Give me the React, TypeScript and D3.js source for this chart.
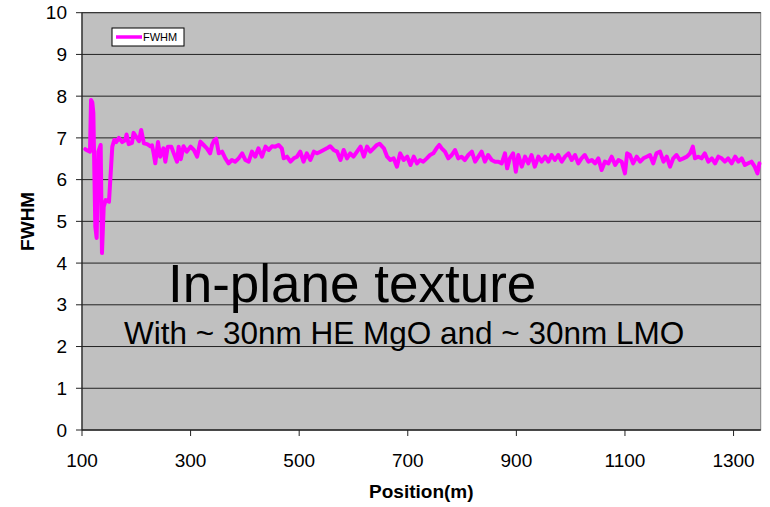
import React from "react";
import * as d3 from "d3";

const positions: number[] = [
  106, 110, 114.7, 116.6, 119, 120.9, 124.5, 127, 130, 134.4, 136.8, 140, 143.6, 149.7, 155.8, 159.5,
  163, 168, 174, 180, 182, 186, 192, 195, 201, 205, 209, 214, 220, 226, 229, 232, 235, 240, 244, 250,
  253.5, 258, 264.5, 269, 275, 278, 282, 287, 293, 300, 306, 312, 318, 324, 330, 336, 339.5, 344, 347,
  352, 358, 364, 370, 376, 382, 388.5, 395, 401, 407, 413, 419, 425, 431.5, 438, 444, 450, 456, 462,
  468, 471.5, 477.6, 484, 490, 496, 502, 508, 514, 520.6, 527, 533, 539, 545, 551, 557, 563.5, 570,
  576, 582, 588, 594, 600, 606.5, 613, 619, 625, 631, 637, 643, 648, 656, 662, 668, 674, 680, 686,
  692.5, 699, 705, 711, 717, 722.5, 728.6, 735, 741, 747, 753, 758, 762.5, 768.5, 774.7, 781, 787,
  793, 799, 805, 811.5, 818, 824, 830, 836, 842, 848, 854.5, 860.7, 867, 873, 879, 883, 888, 894,
  899, 903.6, 910, 916, 922, 928, 934, 940.5, 946.6, 953, 959, 965, 971, 977, 983.5, 989.6, 996,
  1002, 1008, 1014, 1020, 1026, 1032.6, 1039, 1045, 1051, 1057, 1063, 1069.5, 1075.6, 1082, 1088,
  1094, 1100, 1104, 1109, 1115, 1121.6, 1128, 1134, 1140, 1146, 1152, 1158, 1164.6, 1171, 1177,
  1183, 1189, 1195, 1201, 1207.6, 1214, 1220, 1225, 1229, 1235, 1241, 1247, 1253.6, 1260, 1266,
  1272, 1278, 1284, 1290, 1296.6, 1303, 1309, 1315, 1321, 1327, 1333, 1339, 1344, 1347.6,
];

const fwhm: number[] = [
  6.73, 6.7, 6.67, 7.91, 7.85, 7.6, 4.87, 4.6, 6.67, 6.83, 4.24, 5.35, 5.51, 5.47, 6.79, 6.95,
  6.9, 7.0, 6.9, 6.95, 7.08, 6.85, 6.88, 7.12, 7.0, 6.92, 7.19, 6.87, 6.85, 6.8, 6.82, 6.63, 6.39, 6.9, 6.55, 6.75,
  6.43, 6.79, 6.79, 6.63, 6.43, 6.79, 6.49, 6.8, 6.67, 6.79, 6.71, 6.55, 6.91, 6.83, 6.75, 6.63, 6.83, 6.95, 6.98,
  6.63, 6.67, 6.51, 6.39, 6.47, 6.43, 6.51, 6.63, 6.47, 6.43, 6.67, 6.55, 6.75, 6.55, 6.79, 6.71, 6.8, 6.79, 6.83,
  6.75, 6.51, 6.55, 6.43, 6.51, 6.55, 6.67, 6.43, 6.63, 6.47, 6.67, 6.63, 6.67, 6.71, 6.75, 6.8, 6.71, 6.67,
  6.47, 6.71, 6.51, 6.63, 6.55, 6.67, 6.79, 6.55, 6.79, 6.67, 6.75, 6.83, 6.86, 6.75, 6.55, 6.47, 6.51, 6.31, 6.63,
  6.47, 6.55, 6.35, 6.55, 6.39, 6.47, 6.43, 6.51, 6.59, 6.63, 6.75, 6.83, 6.75, 6.67, 6.51, 6.59, 6.71,
  6.51, 6.55, 6.47, 6.59, 6.67, 6.43, 6.55, 6.67, 6.43, 6.59, 6.47, 6.43, 6.43, 6.39, 6.63, 6.27, 6.51, 6.63,
  6.19, 6.59, 6.31, 6.55, 6.39, 6.59, 6.31, 6.55, 6.43, 6.55, 6.43, 6.59, 6.47, 6.59, 6.43, 6.55, 6.63,
  6.47, 6.59, 6.39, 6.51, 6.59, 6.43, 6.47, 6.39, 6.51, 6.23, 6.43, 6.39, 6.55, 6.35, 6.47,
  6.43, 6.15, 6.63, 6.59, 6.39, 6.55, 6.43, 6.51, 6.55, 6.59, 6.39, 6.63, 6.67, 6.43, 6.55,
  6.31, 6.51, 6.59, 6.47, 6.51, 6.55, 6.63, 6.79, 6.51, 6.55, 6.51, 6.63, 6.43, 6.51, 6.39,
  6.55, 6.51, 6.43, 6.51, 6.39, 6.55, 6.43, 6.51, 6.35, 6.39, 6.43, 6.31, 6.15, 6.39,
];

const xTicks: number[] = [100, 300, 500, 700, 900, 1100, 1300];
const yTicks: number[] = [0, 1, 2, 3, 4, 5, 6, 7, 8, 9, 10];
const seriesName = "FWHM";
const xTitle = "Position(m)";
const yTitle = "FWHM";
const titleMain = "In-plane texture";
const titleSub = "With ~ 30nm HE MgO and ~ 30nm LMO";

const W = 770;
const H = 507;
const L = 82;
const R = 760.7;
const T = 12.7;
const B = 430;
const font = "'Liberation Sans', Arial, sans-serif";
const MAGENTA = "#FF00FF";

export default function App() {
  const x = d3.scaleLinear().domain([100, 1350]).range([L, R]);
  const y = d3.scaleLinear().domain([0, 10]).range([B, T]);
  const pts: [number, number][] = positions.map((p, i) => [p, fwhm[i]]);
  const line = d3
    .line<[number, number]>()
    .x((d) => x(d[0]))
    .y((d) => y(d[1]));

  return (
    <svg
      width={W}
      height={H}
      style={{ position: "absolute", left: 0, top: 0, background: "#fff" }}
      fontFamily={font}
    >
      <rect x={0} y={0} width={W} height={H} fill="#fff" />
      <rect x={L} y={T} width={R - L} height={B - T} fill="#C0C0C0" stroke="#808080" strokeWidth={1} />
      {yTicks.map((t) => (
        <line key={"g" + t} x1={L} x2={R} y1={y(t)} y2={y(t)} stroke="#222" strokeWidth={1} />
      ))}
      <line x1={L} x2={L} y1={T} y2={B} stroke="#222" strokeWidth={1.2} />
      <line x1={L} x2={R} y1={B} y2={B} stroke="#222" strokeWidth={1.2} />
      {yTicks.map((t) => (
        <g key={"y" + t}>
          <line x1={L - 6} x2={L} y1={y(t)} y2={y(t)} stroke="#222" strokeWidth={1} />
          <text x={67} y={y(t)} dy="0.35em" textAnchor="end" fontSize={19} fill="#000">
            {t}
          </text>
        </g>
      ))}
      {xTicks.map((t) => (
        <g key={"x" + t}>
          <line x1={x(t)} x2={x(t)} y1={B} y2={B + 6} stroke="#222" strokeWidth={1} />
          <text x={x(t)} y={467} textAnchor="middle" fontSize={19} fill="#000">
            {t}
          </text>
        </g>
      ))}
      <text
        transform={`translate(33.5, ${(T + B) / 2}) rotate(-90)`}
        textAnchor="middle"
        fontSize={19}
        fontWeight="bold"
        fill="#000"
      >
        {yTitle}
      </text>
      <text x={(L + R) / 2} y={498} textAnchor="middle" fontSize={19} fontWeight="bold" fill="#000">
        {xTitle}
      </text>
      <path
        d={line(pts) || ""}
        fill="none"
        stroke={MAGENTA}
        strokeWidth={4}
        strokeLinejoin="round"
        strokeLinecap="round"
      />
      <g>
        <rect x={112} y={28} width={72} height={18} fill="#fff" stroke="#000" strokeWidth={1} />
        <line x1={116} x2={142} y1={37} y2={37} stroke={MAGENTA} strokeWidth={3.5} />
        <text x={143} y={41} fontSize={11} fill="#000">
          {seriesName}
        </text>
      </g>
      <text x={168} y={302} fontSize={53} fill="#000">
        {titleMain}
      </text>
      <text x={124} y={343.5} fontSize={31.5} fill="#000">
        {titleSub}
      </text>
    </svg>
  );
}
